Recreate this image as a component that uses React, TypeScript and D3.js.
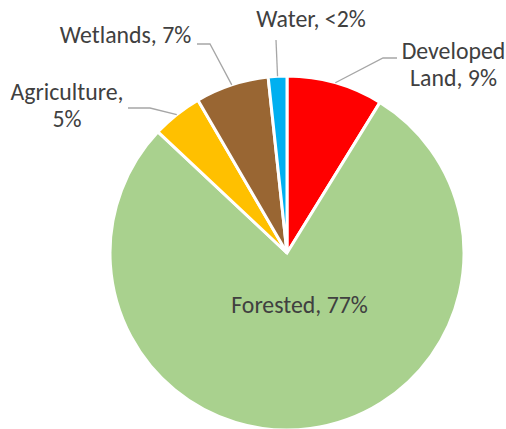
import React from "react";
import * as d3 from "d3";

const categories = ["Developed Land", "Forested", "Agriculture", "Wetlands", "Water"];
const values = [8.8, 78.2, 4.6, 6.7, 1.7];
const labelLines = [["Developed", "Land, 9%"], ["Forested, 77%"], ["Agriculture,", "5%"], ["Wetlands, 7%"], ["Water, <2%"]];
const colors = ["#FF0000", "#A9D18E", "#FFC000", "#996633", "#00B0F0"];

const W = 506, H = 429;
const cx = 287, cy = 253, R = 177;

// layout: label anchor (middle, first baseline) and leader elbow points
const labelPos: { x: number; y: number; leader: [number, number][] | null }[] = [
  { x: 453.5, y: 59, leader: [[397, 58], [383, 58]] },
  { x: 299.5, y: 313, leader: null },
  { x: 67, y: 100, leader: [[128, 108], [150, 108]] },
  { x: 125.5, y: 43, leader: [[197, 44], [210, 44]] },
  { x: 311, y: 27, leader: [[276, 40]] },
];

export default function App() {
  const pie = d3.pie<number>().sort(null).value((d) => d)(values);
  const arc = d3.arc<d3.PieArcDatum<number>>().innerRadius(0).outerRadius(R);
  const lineGen = d3.line();

  return (
    <div style={{ position: "fixed", left: 0, top: 0 }}>
      <svg width={W} height={H} style={{ display: "block", background: "#fff" }}>
        <g transform={`translate(${cx},${cy})`}>
          {pie.map((p, i) => (
            <path key={categories[i]} d={arc(p) || ""} fill={colors[i]} stroke="#fff" strokeWidth={3} strokeLinejoin="miter" />
          ))}
        </g>
        {pie.map((p, i) => {
          const lp = labelPos[i];
          if (!lp.leader) return null;
          const mid = (p.startAngle + p.endAngle) / 2;
          const end: [number, number] = [cx + R * Math.sin(mid), cy - R * Math.cos(mid)];
          return (
            <path key={"l" + i} d={lineGen([...lp.leader, end]) || ""} fill="none" stroke="#A6A6A6" strokeWidth={1.3} />
          );
        })}
        {labelLines.map((lines, i) => (
          <text key={"t" + i} x={labelPos[i].x} y={labelPos[i].y} textAnchor="middle" fontFamily="Carlito, 'Open Sans', sans-serif" fontSize={23.8} fill="#404040">
            {lines.map((s, j) => (
              <tspan key={j} x={labelPos[i].x} dy={j === 0 ? 0 : 27}>{s}</tspan>
            ))}
          </text>
        ))}
      </svg>
    </div>
  );
}
